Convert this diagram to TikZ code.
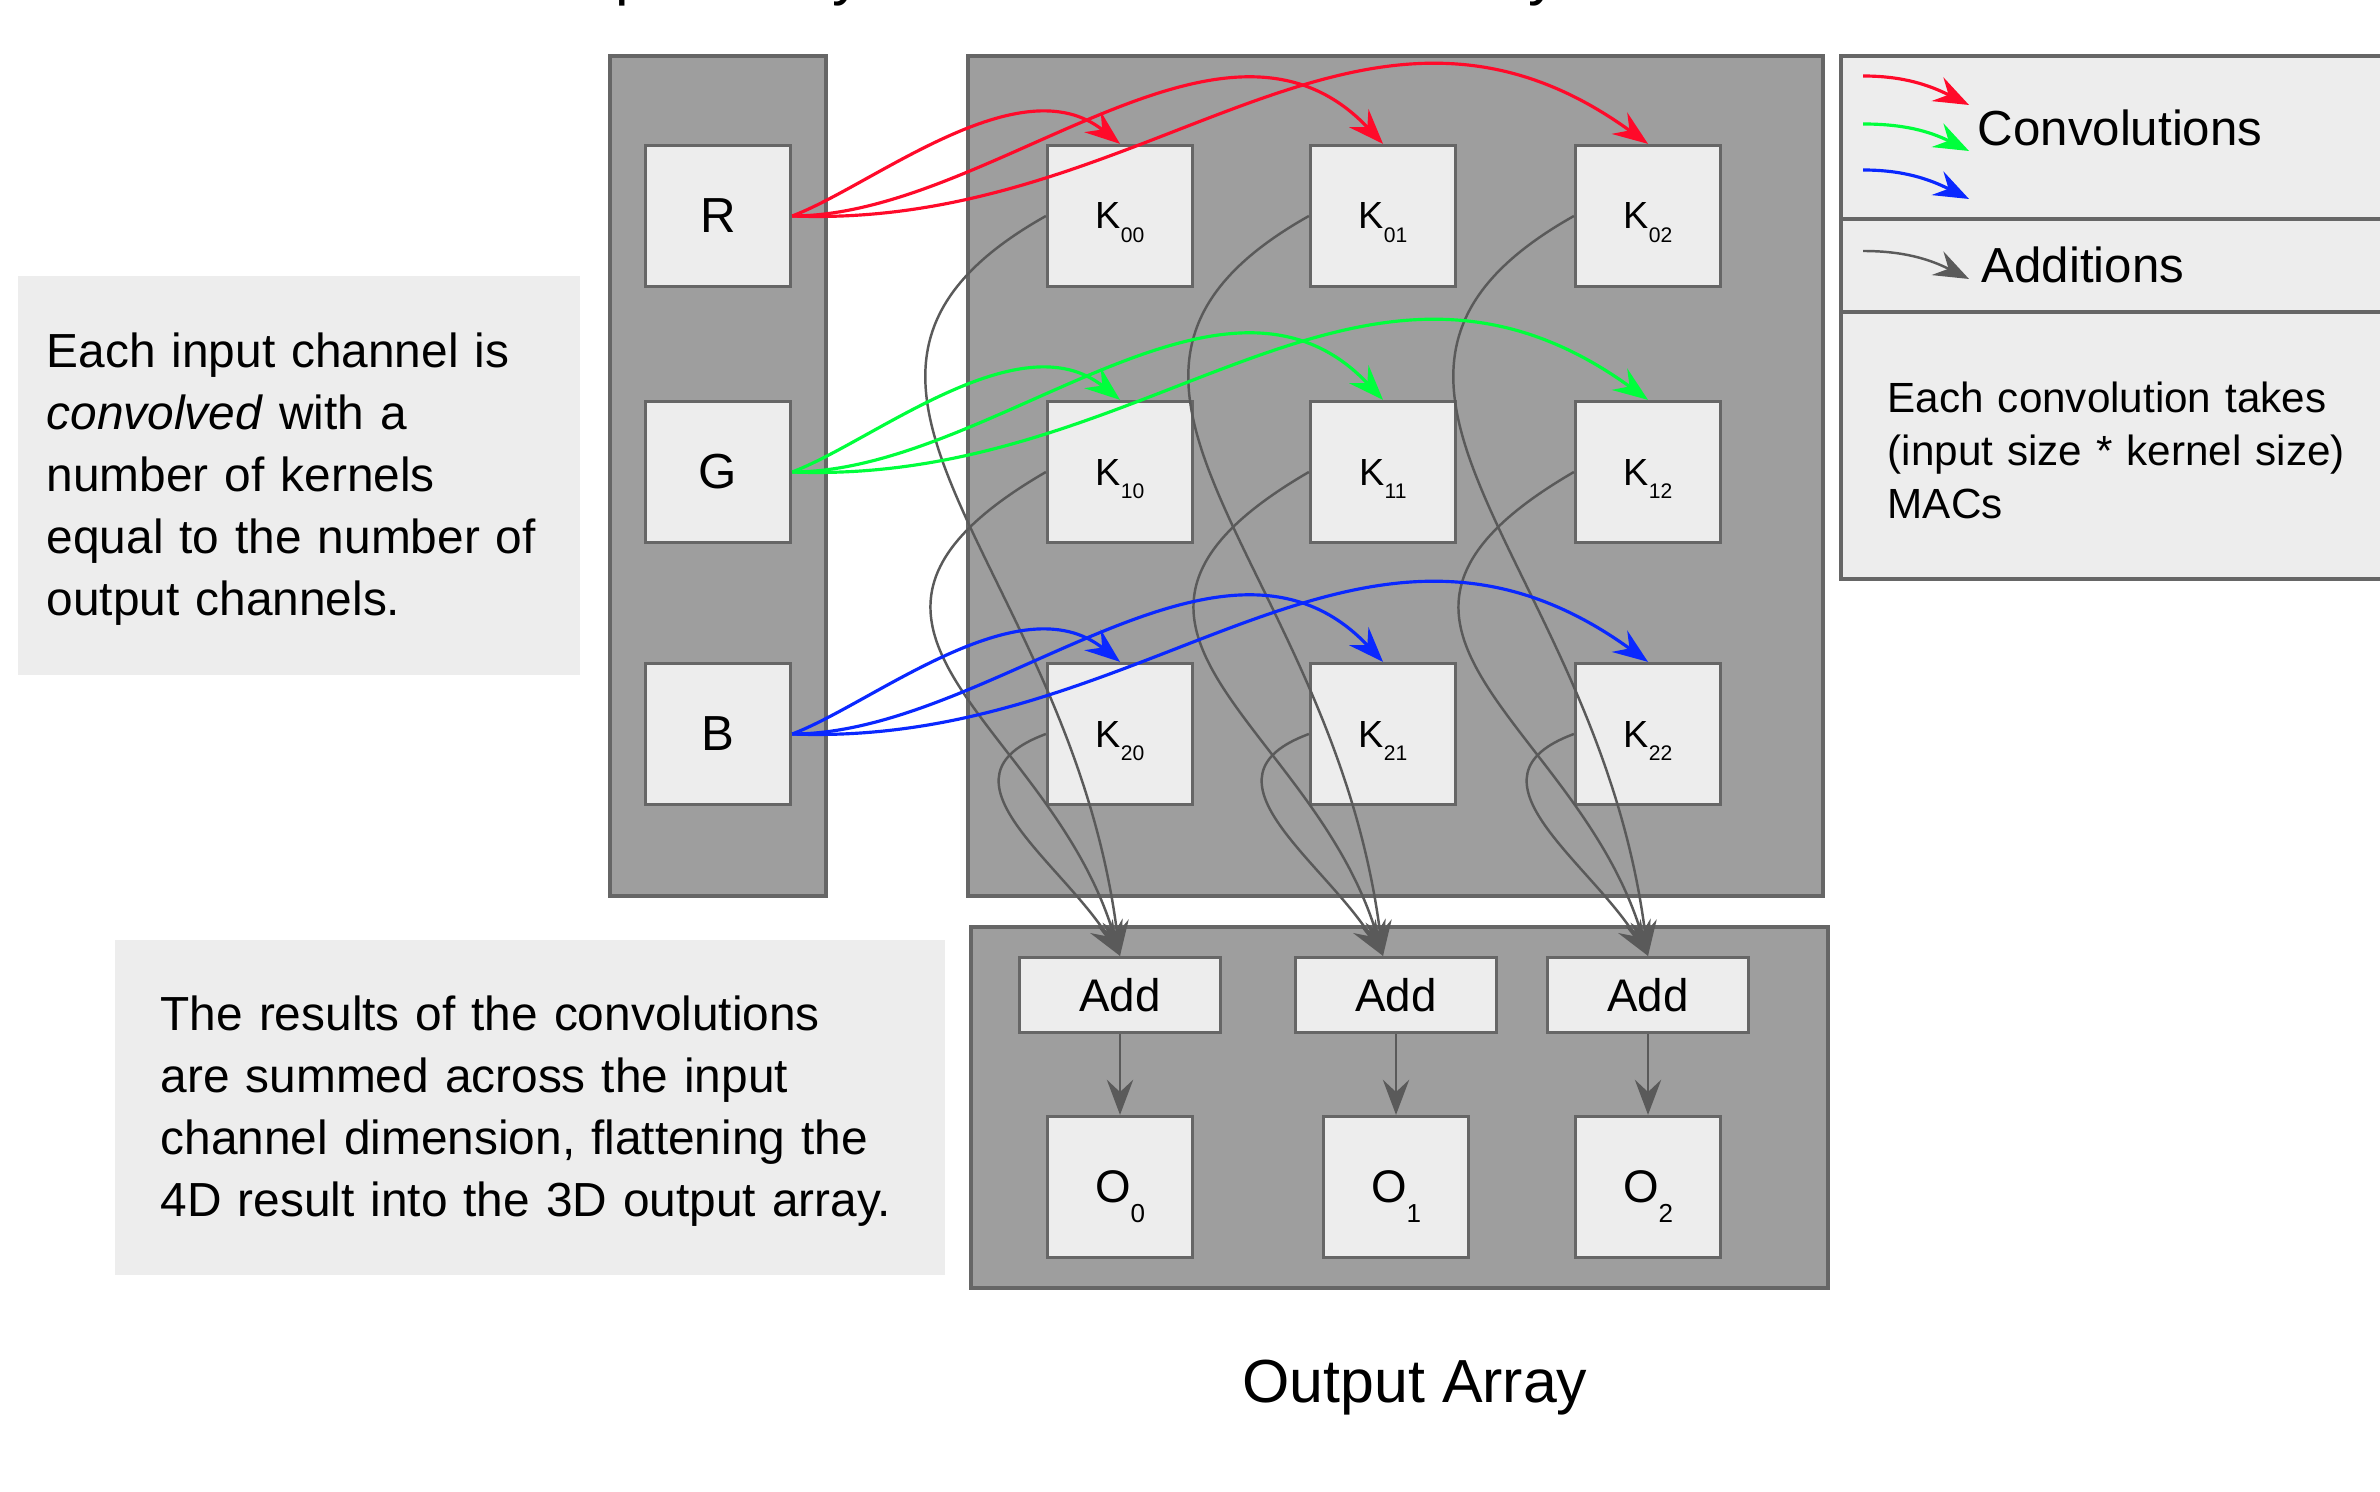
\documentclass[tikz,border=0pt]{standalone}
\usepackage{fontspec}
\setmainfont{Liberation Sans}
\usepackage{xcolor}
\usetikzlibrary{positioning,arrows.meta}

\definecolor{boxgray}{HTML}{9E9E9E}
\definecolor{edgegray}{HTML}{666666}
\definecolor{cellgray}{HTML}{EDEDED}
\definecolor{addgray}{HTML}{5A5A5A}
\definecolor{convred}{HTML}{FF0A2A}
\definecolor{convgreen}{HTML}{00FF3C}
\definecolor{convblue}{HTML}{0A28FF}

\newcommand{\ksub}[1]{\raisebox{-3.7pt}[0pt][0pt]{\fontsize{6}{6}\selectfont #1}}
\newcommand{\osub}[1]{\raisebox{-5.7pt}[0pt][0pt]{\fontsize{7.4}{7.4}\selectfont #1}}

\begin{document}
\begin{tikzpicture}
            [x=0.01cm, y=-0.01cm,
             array/.style = {draw=edgegray, line width=1pt, fill=boxgray},
             cell/.style = {draw=edgegray, line width=0.9pt, fill=cellgray, minimum width=1.45cm, minimum height=1.41cm, inner sep=0pt},
             chan/.style = {cell, font=\fontsize{14}{14}\selectfont},
             kern/.style = {cell, font=\fontsize{10.75}{10.75}\selectfont},
             outc/.style = {cell, font=\fontsize{13}{13}\selectfont},
             addc/.style = {cell, minimum width=2.01cm, minimum height=0.75cm, font=\fontsize{13}{13}\selectfont},
             note/.style = {anchor=base west, inner sep=0pt, align=left},
             conv/.style = {line width=0.9pt, -{Stealth[length=10pt, width=7.5pt, inset=3.5pt]}},
             sum/.style = {draw=addgray, line width=0.7pt, -{Stealth[length=10pt, width=7.5pt, inset=3.5pt]}}]

            \fill[white] (0,0) rectangle (2380,1492);
            \useasboundingbox (0,0) rectangle (2380,1492);

            % arrays and notes
            \draw[array] (610,56) rectangle (826,896);
            \draw[array] (968,56) rectangle (1823,896);
            \draw[array] (971,927) rectangle (1828,1288);
            \fill[cellgray] (18,276) rectangle (580,675);
            \fill[cellgray] (115,940) rectangle (945,1275);

            % legend
            \draw[draw=edgegray, line width=1pt, fill=cellgray] (2400,56) -- (1841,56) -- (1841,579) -- (2400,579);
            \draw[edgegray, line width=1.1pt] (1841,219) -- (2400,219) (1841,312) -- (2400,312);

            \node[chan] (R) at (718,216) {R};
            \node[chan] (G) at (718,472) {G};
            \node[chan] (B) at (718,734) {B};

            \node[kern] (K00) at (1120,216) {K\ksub{00}};
            \node[kern] (K01) at (1383,216) {K\ksub{01}};
            \node[kern] (K02) at (1648,216) {K\ksub{02}};
            \node[kern] (K10) at (1120,472) {K\ksub{10}};
            \node[kern] (K11) at (1383,472) {K\ksub{11}};
            \node[kern] (K12) at (1648,472) {K\ksub{12}};
            \node[kern] (K20) at (1120,734) {K\ksub{20}};
            \node[kern] (K21) at (1383,734) {K\ksub{21}};
            \node[kern] (K22) at (1648,734) {K\ksub{22}};

            \node[addc] (A0) at (1120,995) {Add};
            \node[addc] (A1) at (1396,995) {Add};
            \node[addc] (A2) at (1648,995) {Add};

            \node[outc] (O0) at (1120,1187) {O\osub{0}};
            \node[outc] (O1) at (1396,1187) {O\osub{1}};
            \node[outc] (O2) at (1648,1187) {O\osub{2}};

            % titles
            \node[anchor=base, inner sep=0pt, font=\fontsize{17.3}{17.3}\selectfont] (intitle) at (714,-6) {Input Array};
            \node[anchor=base, inner sep=0pt, font=\fontsize{17.3}{17.3}\selectfont] (ktitle) at (1390,-6) {Kernel Array};
            \node[anchor=base, inner sep=0pt, font=\fontsize{17.3}{17.3}\selectfont] (outtitle) at (1415,1402) {Output Array};

            \node[note, text width=6cm, font=\fontsize{13.6}{17.6}\selectfont] (chnote) at (46,368)
                {Each input channel is\\ \textit{convolved} with a\\ number of kernels\\ equal to the number of\\ output channels.};
            \node[note, text width=8cm, font=\fontsize{13.6}{17.7}\selectfont] (sumnote) at (160,1030)
                {The results of the convolutions\\ are summed across the input\\ channel dimension, flattening the\\ 4D result into the 3D output array.};

            \node[note, font=\fontsize{14}{14}\selectfont] (convlbl) at (1977,146) {Convolutions};
            \node[note, font=\fontsize{14}{14}\selectfont] (addlbl) at (1981,283) {Additions};
            \node[note, text width=5cm, font=\fontsize{12}{15}\selectfont] (macnote) at (1887,413)
                {Each convolution takes\\ (input size * kernel size)\\ MACs};

            \coordinate (lr0) at (1863,76);  \coordinate (lr1) at (1969,105);
            \coordinate (lg0) at (1863,124); \coordinate (lg1) at (1969,151);
            \coordinate (lb0) at (1863,170); \coordinate (lb1) at (1969,199);
            \coordinate (la0) at (1863,251); \coordinate (la1) at (1969,279);
            \draw[conv, convred] (lr0) .. controls +(40,0) and +(-40,-20) .. (lr1);
            \draw[conv, convgreen] (lg0) .. controls +(40,0) and +(-40,-20) .. (lg1);
            \draw[conv, convblue] (lb0) .. controls +(40,0) and +(-40,-20) .. (lb1);
            \draw[sum] (la0) .. controls +(40,0) and +(-40,-20) .. (la1);

            % additions
            \draw[sum] (K00.west) .. controls +(-288,162) and +(-50,-397) .. (K00 |- A0.north);
            \draw[sum] (K10.west) .. controls +(-267,155) and +(-70,-236) .. (K00 |- A0.north);
            \draw[sum] (K20.west) .. controls +(-117,43) and +(-60,-96) .. (K00 |- A0.north);
            \draw[sum] (K01.west) .. controls +(-288,162) and +(-50,-397) .. (K01 |- A1.north);
            \draw[sum] (K11.west) .. controls +(-267,155) and +(-70,-236) .. (K01 |- A1.north);
            \draw[sum] (K21.west) .. controls +(-117,43) and +(-60,-96) .. (K01 |- A1.north);
            \draw[sum] (K02.west) .. controls +(-288,162) and +(-50,-397) .. (K02 |- A2.north);
            \draw[sum] (K12.west) .. controls +(-267,155) and +(-70,-236) .. (K02 |- A2.north);
            \draw[sum] (K22.west) .. controls +(-117,43) and +(-60,-96) .. (K02 |- A2.north);
            \draw[sum] (A0) -- (O0);
            \draw[sum] (A1) -- (O1);
            \draw[sum] (A2) -- (O2);

            % convolutions
            \draw[conv, convred] (R.east) .. controls +(80,-30) and +(-100,-80) .. (K00.north);
            \draw[conv, convred] (R.east) .. controls +(200,0) and +(-160,-170) .. (K01.north);
            \draw[conv, convred] (R.east) .. controls +(359,14) and +(-290,-210) .. (K02.north);
            \draw[conv, convgreen] (G.east) .. controls +(80,-30) and +(-100,-80) .. (K10.north);
            \draw[conv, convgreen] (G.east) .. controls +(200,0) and +(-160,-170) .. (K11.north);
            \draw[conv, convgreen] (G.east) .. controls +(359,14) and +(-290,-210) .. (K12.north);
            \draw[conv, convblue] (B.east) .. controls +(80,-30) and +(-100,-80) .. (K20.north);
            \draw[conv, convblue] (B.east) .. controls +(200,0) and +(-160,-170) .. (K21.north);
            \draw[conv, convblue] (B.east) .. controls +(359,14) and +(-290,-210) .. (K22.north);

        \end{tikzpicture}
\end{document}
